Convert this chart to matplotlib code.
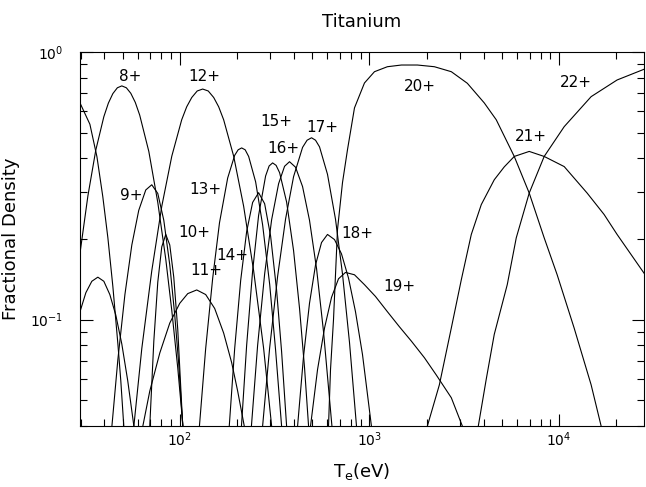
import matplotlib
matplotlib.use("Agg")
import matplotlib.pyplot as plt
from matplotlib.ticker import NullFormatter, LogLocator

# Te (eV) and fractional density, one pair per ion
te_a = [29.8, 32.0, 34.4, 37.0, 39.8, 42.8, 46.0, 49.5, 53.2, 57.3]
fd_a = [0.107, 0.126, 0.139, 0.144, 0.139, 0.124, 0.104, 0.081, 0.059, 0.040]

te_7 = [29.8, 33.6, 36.6, 39.3, 41.8, 44.4, 47.2, 48.9, 50.7]
fd_7 = [0.645, 0.537, 0.406, 0.288, 0.202, 0.133, 0.081, 0.059, 0.040]

te_8 = [29.8, 32.8, 36.1, 39.8, 42.05, 44.4, 46.9, 49.5, 52.3, 55.2, 58.3, 61.5, 68.7, 76.6, 84.4, 90.8, 97.6, 104]
fd_8 = [0.177, 0.290, 0.430, 0.573, 0.644, 0.699, 0.735, 0.747, 0.735, 0.701, 0.648, 0.581, 0.425, 0.274, 0.168, 0.108, 0.066, 0.040]

te_9 = [43.9, 47.2, 51.4, 55.9, 60.8, 66.2, 71.2, 76.6, 82.4, 88.6, 94.1, 98.8, 103.7]
fd_9 = [0.040, 0.071, 0.124, 0.190, 0.256, 0.305, 0.319, 0.296, 0.235, 0.160, 0.104, 0.068, 0.040]

te_10 = [69.5, 73.0, 76.6, 80.4, 84.4, 88.6, 93.0, 97.6, 103.7]
fd_10 = [0.040, 0.083, 0.138, 0.187, 0.208, 0.190, 0.144, 0.092, 0.040]

te_11 = [63.9, 69.5, 78.5, 88.6, 100, 110.2, 122.9, 137, 152.8, 170.4, 187.8, 202, 218.8]
fd_11 = [0.040, 0.054, 0.075, 0.097, 0.115, 0.125, 0.129, 0.124, 0.110, 0.089, 0.069, 0.054, 0.040]

te_12 = [57.3, 63.1, 71.2, 80.4, 90.8, 102.4, 108.8, 115.7, 123.6, 132.1, 141.3, 151, 160.4, 170.4,
         192.4, 217.2, 245.2, 276.8, 305]
fd_12 = [0.040, 0.078, 0.152, 0.265, 0.408, 0.558, 0.624, 0.676, 0.715, 0.727, 0.715, 0.676, 0.624, 0.558,
         0.408, 0.265, 0.152, 0.078, 0.040]

te_13 = [127, 137, 149.2, 162, 178.9, 194.8, 203.2, 212, 221.2, 230.8, 251.2, 273.4, 298, 320, 344.2]
fd_13 = [0.040, 0.078, 0.143, 0.230, 0.338, 0.411, 0.431, 0.438, 0.431, 0.407, 0.327, 0.226, 0.135, 0.077, 0.040]

te_14 = [182.4, 194.8, 209.5, 225.2, 242.2, 260.4, 280.2, 301.3, 323.9, 344.2, 365.8]
fd_14 = [0.040, 0.078, 0.140, 0.213, 0.274, 0.298, 0.271, 0.205, 0.129, 0.076, 0.040]

te_15 = [211.5, 225.2, 242.2, 260.4, 283.5, 295.9, 308.7, 322, 336, 365.8, 398.1, 428, 454.8, 477.5]
fd_15 = [0.040, 0.080, 0.152, 0.245, 0.344, 0.375, 0.385, 0.377, 0.354, 0.275, 0.181, 0.110, 0.066, 0.040]

te_16 = [238.7, 257.3, 280.2, 305, 332, 356.9, 379, 407.7, 444, 483, 526.2, 572.7, 634.1]
fd_16 = [0.040, 0.080, 0.148, 0.236, 0.322, 0.374, 0.389, 0.371, 0.314, 0.235, 0.155, 0.090, 0.040]

te_17 = [273.4, 297.6, 328, 361.4, 398.1, 444, 469, 495.1, 519.7, 545.5, 600.9, 662.3, 720.9, 785, 854.3]
fd_17 = [0.040, 0.078, 0.145, 0.238, 0.342, 0.440, 0.468, 0.478, 0.468, 0.442, 0.349, 0.237, 0.148, 0.082, 0.040]

te_18 = [418, 449.4, 483, 519.7, 558.9, 600.9, 654.4, 712.1, 775.3, 844, 918.9, 1024]
fd_18 = [0.040, 0.073, 0.115, 0.160, 0.194, 0.208, 0.199, 0.176, 0.143, 0.107, 0.074, 0.040]

te_19 = [489.1, 532.5, 579.8, 631, 686.8, 747.4, 833.7, 941.2, 1075.5, 1243, 1438, 1664, 1948, 2252, 2701, 3087]
fd_19 = [0.040, 0.065, 0.093, 0.121, 0.142, 0.150, 0.147, 0.135, 0.122, 0.107, 0.094, 0.083, 0.072, 0.062, 0.051, 0.040]

te_20 = [608.4, 623.3, 646.4, 678.5, 720.9, 765.8, 833.7, 941.2, 1062.5, 1243, 1474, 1789, 2199,
         2701, 3280, 4030, 4660, 5798, 6952, 8337, 9760, 11990, 14740, 16640]
fd_20 = [0.040, 0.065, 0.100, 0.217, 0.325, 0.431, 0.618, 0.766, 0.844, 0.881, 0.894, 0.894, 0.881,
         0.844, 0.764, 0.645, 0.558, 0.407, 0.297, 0.202, 0.147, 0.093, 0.057, 0.040]

te_21 = [2020, 2336, 2701, 3050, 3442, 3886, 4548, 5134, 5798, 6952, 8337, 10630, 14040, 17250, 20200, 28020]
fd_21 = [0.040, 0.057, 0.093, 0.141, 0.208, 0.269, 0.333, 0.372, 0.407, 0.425, 0.407, 0.373, 0.297, 0.247, 0.208, 0.149]

te_22 = [3748, 4129, 4548, 5325, 5940, 6952, 8337, 10630, 14740, 20200, 28020]
fd_22 = [0.040, 0.060, 0.088, 0.135, 0.202, 0.297, 0.407, 0.526, 0.681, 0.786, 0.862]

labels = ["8+", "9+", "10+", "11+", "12+", "13+", "14+", "15+", "16+", "17+", "18+", "19+", "20+", "21+", "22+"]
label_te = [54.6, 55.2, 120, 138.7, 135.4, 137, 190, 324, 352, 566, 865, 1438, 1833, 7130, 12280]
label_fd = [0.807, 0.290, 0.211, 0.152, 0.807, 0.306, 0.173, 0.548, 0.435, 0.520, 0.209, 0.133, 0.740, 0.482, 0.766]

curves = [(te_a, fd_a), (te_7, fd_7), (te_8, fd_8), (te_9, fd_9), (te_10, fd_10), (te_11, fd_11),
          (te_12, fd_12), (te_13, fd_13), (te_14, fd_14), (te_15, fd_15), (te_16, fd_16),
          (te_17, fd_17), (te_18, fd_18), (te_19, fd_19), (te_20, fd_20), (te_21, fd_21), (te_22, fd_22)]

fig = plt.figure(figsize=(6.46, 4.87), dpi=100)
ax = fig.add_axes([80 / 646, 1 - 426 / 487, 564 / 646, 374 / 487])

for te, fd in curves:
    ax.plot(te, fd, color="black", lw=0.8)

for lab, x, y in zip(labels, label_te, label_fd):
    ax.text(x, y, lab, fontsize=11, ha="center", va="center")

ax.set_xscale("log")
ax.set_yscale("log")
ax.set_xlim(29.8, 28000)
ax.set_ylim(0.04, 1.0)

ax.xaxis.set_minor_locator(LogLocator(base=10, subs=range(2, 10)))
ax.yaxis.set_minor_locator(LogLocator(base=10, subs=range(2, 10)))
ax.xaxis.set_minor_formatter(NullFormatter())
ax.yaxis.set_minor_formatter(NullFormatter())
ax.tick_params(which="both", direction="in", top=True, right=True, labelsize=10, width=0.8)
ax.tick_params(which="major", length=9)
ax.tick_params(which="minor", length=5)
ax.tick_params(axis="y", which="major", pad=12)
for s in ax.spines.values():
    s.set_linewidth(0.8)

ax.set_title("Titanium", fontsize=13, pad=18)
ax.set_xlabel(r"T$_\mathrm{e}$(eV)", fontsize=13, labelpad=8)
ax.set_ylabel("Fractional Density", fontsize=13)
ax.yaxis.set_label_coords(-0.107, 0.5)

fig.savefig("out.png", dpi=100)
